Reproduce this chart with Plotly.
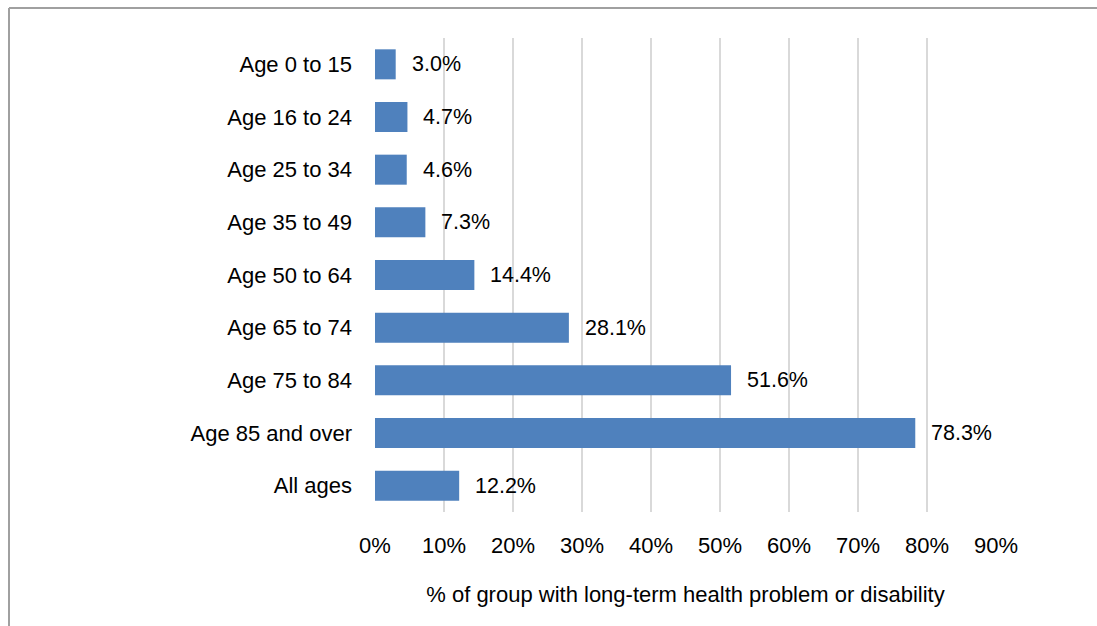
import plotly.graph_objects as go

# Share of each age group with a long-term health problem or disability
categories = ["Age 0 to 15", "Age 16 to 24", "Age 25 to 34", "Age 35 to 49",
              "Age 50 to 64", "Age 65 to 74", "Age 75 to 84", "Age 85 and over",
              "All ages"]
values = [0.030, 0.047, 0.046, 0.073, 0.144, 0.281, 0.516, 0.783, 0.122]
labels = ["3.0%", "4.7%", "4.6%", "7.3%", "14.4%", "28.1%", "51.6%", "78.3%", "12.2%"]
x_ticks = [0.0, 0.1, 0.2, 0.3, 0.4, 0.5, 0.6, 0.7, 0.8, 0.9]
x_title = "% of group with long-term health problem or disability"

FONT = "Liberation Sans, Arial, sans-serif"
BAR = "#4F81BD"
GRID = "#d9d9d9"

W, H = 1097, 626
ML, MR, MT, MB = 375, 101, 38, 114

fig = go.Figure(go.Bar(
    x=values, y=categories, orientation="h",
    marker=dict(color=BAR, line=dict(width=0)),
    width=0.57, hoverinfo="skip",
))

# value labels just past the end of each bar
for cat, v, lab in zip(categories, values, labels):
    fig.add_annotation(x=v, y=cat, text=lab, showarrow=False,
                       xanchor="left", yanchor="middle", xshift=14,
                       font=dict(family=FONT, size=21.5, color="#000000"))

# outer frame lines (left and top edges)
pw = W - ML - MR
ph = H - MT - MB
def px_x(p):
    return (p - ML) / pw
def px_y(p):
    return (H - MB - p) / ph

fig.add_shape(type="line", xref="paper", yref="paper",
              x0=px_x(9), x1=px_x(9), y0=px_y(H), y1=px_y(8),
              line=dict(color="#a0a0a0", width=2))
fig.add_shape(type="line", xref="paper", yref="paper",
              x0=px_x(9), x1=px_x(W), y0=px_y(8), y1=px_y(8),
              line=dict(color="#a0a0a0", width=2))

fig.update_layout(
    width=W, height=H,
    margin=dict(l=ML, r=MR, t=MT, b=MB, pad=0),
    paper_bgcolor="white", plot_bgcolor="white",
    showlegend=False,
    font=dict(family=FONT, size=22, color="#000000"),
    xaxis=dict(
        range=[0, 0.9], tickvals=x_ticks, tickformat=".0%",
        showgrid=True, gridcolor=GRID, gridwidth=2,
        zeroline=False, showline=False, ticks="",
        ticklabelstandoff=18,
        tickfont=dict(family=FONT, size=22, color="#000000"),
        title=dict(text=x_title, standoff=29,
                   font=dict(family=FONT, size=22, color="#000000")),
        fixedrange=True,
    ),
    yaxis=dict(
        categoryorder="array", categoryarray=categories,
        autorange="reversed",
        showgrid=False, zeroline=False, showline=False, ticks="",
        ticklabelstandoff=22,
        tickfont=dict(family=FONT, size=22, color="#000000"),
        fixedrange=True,
    ),
)

fig.write_html("out.html", config={"displayModeBar": False})
